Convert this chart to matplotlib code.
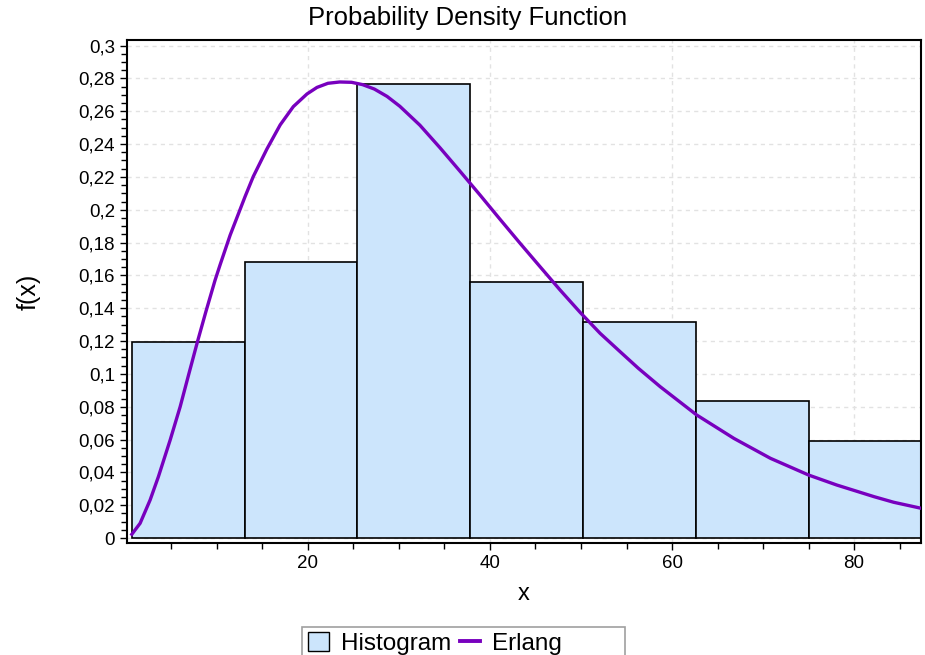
import matplotlib
matplotlib.use("Agg")
import matplotlib.pyplot as plt
from matplotlib.patches import Patch, Rectangle
from matplotlib.lines import Line2D
from matplotlib.ticker import MultipleLocator, FuncFormatter
import numpy as np

# histogram (bin edges and heights)
bin_edges = [0.66, 13.05, 25.44, 37.83, 50.22, 62.61, 75.0, 87.4]
bin_heights = [0.1196, 0.1684, 0.2767, 0.1562, 0.1318, 0.0835, 0.0591]

# fitted Erlang curve
curve_x = [0.66, 1.57, 2.67, 3.58, 4.87, 5.97, 6.9, 7.87, 8.8, 9.8, 10.36,
           11.46, 13.1, 14.0, 15.5, 16.96, 18.4, 19.9, 21.0, 22.2, 23.5,
           24.8, 26.0, 27.3, 28.7, 30.1, 32.3, 34.5, 36.7, 38.9, 41.1, 43.3,
           45.5, 47.7, 49.9, 52.1, 54.3, 56.3, 58.7, 62.7, 66.8, 70.8, 75.0,
           78.1, 82.2, 84.35, 87.4]
curve_y = [0.0023, 0.009, 0.0232, 0.0374, 0.0597, 0.080, 0.0995, 0.1196,
           0.138, 0.157, 0.1665, 0.1845, 0.208, 0.2202, 0.237, 0.2517,
           0.2628, 0.2705, 0.2745, 0.2770, 0.2778, 0.2776, 0.2762, 0.2735,
           0.2690, 0.2630, 0.2515, 0.2378, 0.2235, 0.2090, 0.1942, 0.1796,
           0.1653, 0.1511, 0.1375, 0.1247, 0.1135, 0.1034, 0.0922, 0.075,
           0.0607, 0.0486, 0.0384, 0.0323, 0.0252, 0.0218, 0.0181]

bar_color = "#cce5fc"
line_color = "#7800be"

plt.rcParams["font.family"] = ["Liberation Sans", "DejaVu Sans"]

fig = plt.figure(figsize=(9.25, 6.55), dpi=100)
ax = fig.add_axes([0.137, 0.171, 0.8592, 0.768])

ax.bar(bin_edges[:-1], bin_heights, width=np.diff(bin_edges), align="edge",
       color=bar_color, edgecolor="black", linewidth=1.2, zorder=2)
ax.plot(curve_x, curve_y, color=line_color, linewidth=2.4, zorder=3)

ax.set_xlim(0.1, 87.4)
ax.set_ylim(-0.003, 0.3034)

ax.xaxis.set_major_locator(MultipleLocator(20))
ax.xaxis.set_minor_locator(MultipleLocator(5))
ax.yaxis.set_major_locator(MultipleLocator(0.02))
ax.yaxis.set_minor_locator(MultipleLocator(0.005))
ax.yaxis.set_major_formatter(FuncFormatter(lambda v, p: ("%g" % round(v, 3)).replace(".", ",")))

ax.tick_params(which="major", direction="out", length=5, width=1, labelsize=13.5)
ax.tick_params(which="minor", direction="out", length=4, width=1)
for s in ax.spines.values():
    s.set_linewidth(1.5)

ax.set_axisbelow(True)
ax.grid(True, which="major", color="#e2e2e2", linestyle=(0, (3, 3)), linewidth=1)

ax.set_xlabel("x", fontsize=17, labelpad=8)
ax.set_ylabel("f(x)", fontsize=18, labelpad=27)
fig.text(0.506, 0.9725, "Probability Density Function", ha="center", va="center", fontsize=18.5)

# legend: entries without frame, plus a wider box like the original
handles = [Patch(facecolor=bar_color, edgecolor="black", linewidth=1),
           Line2D([], [], color=line_color, linewidth=2.8)]
fig.legend(handles, ["Histogram", "Erlang"], loc="upper left",
           bbox_to_anchor=(0.333, 0.035), ncol=2, fontsize=17.5, frameon=False,
           handlelength=0.85, handleheight=0.85, handletextpad=0.5,
           columnspacing=0.35, borderaxespad=0, borderpad=0)
fig.patches.append(Rectangle((0.3265, -0.02), 0.3492, 0.0627, transform=fig.transFigure,
                             fill=False, edgecolor="#a0a0a0", linewidth=1.2))

fig.savefig("out.png", dpi=100)
